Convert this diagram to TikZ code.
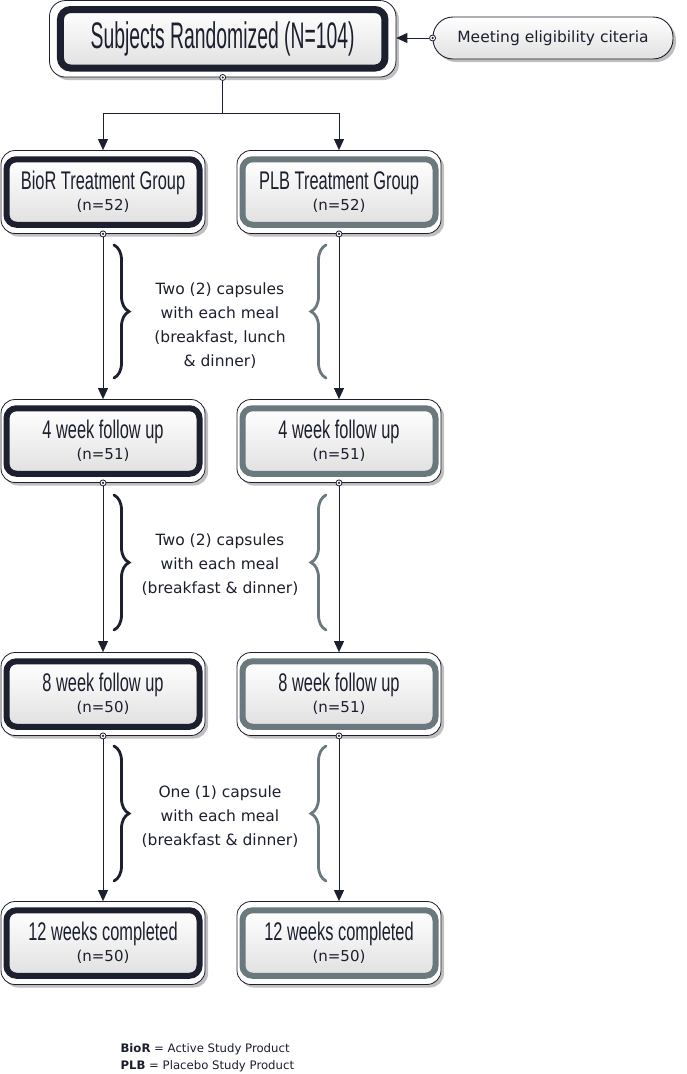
\documentclass[tikz,border=0pt]{standalone}
\usepackage{fontspec}
\setmainfont{DejaVu Sans}
\newfontfamily\dejavu{DejaVu Sans}
\newfontfamily\condA[FakeStretch=0.523]{Liberation Sans}
\newfontfamily\condB[FakeStretch=0.643]{Liberation Sans}
\usetikzlibrary{arrows.meta,fit,backgrounds,shadows,decorations.pathreplacing}
\definecolor{ink}{HTML}{1C1F2E}
\definecolor{slate}{HTML}{6A797D}
\tikzset{
  innerL/.style={rectangle, rounded corners=10pt, draw=ink, line width=6pt,
    top color=white, bottom color=black!12, minimum width=193pt, minimum height=65.5pt,
    outer sep=0pt, inner sep=0pt, align=center, text=ink,
    font=\dejavu\fontsize{15}{21}\selectfont},
  innerR/.style={innerL, draw=slate},
  innerTop/.style={innerL, line width=7pt, minimum width=324.5pt, minimum height=58.5pt,
    font=\condA\fontsize{37}{40}\selectfont},
  outerbox/.style={rectangle, rounded corners=14pt, draw=ink, line width=0.8pt, fill=white,
    inner xsep=5.5pt, inner ysep=8.75pt,
    drop shadow={shadow xshift=3pt, shadow yshift=-3pt, opacity=0.25, fill=black}},
  meetbox/.style={rectangle, rounded corners=20pt, draw=ink, line width=0.9pt,
    top color=white, bottom color=black!12, minimum width=240pt, minimum height=42pt,
    text=ink, font=\dejavu\fontsize{15.5}{18}\selectfont,
    drop shadow={shadow xshift=3pt, shadow yshift=-3pt, opacity=0.25, fill=black}},
  port/.style={circle, draw=ink, line width=0.8pt, fill=white, inner sep=0pt, minimum size=6pt,
    path picture={\fill[ink] (path picture bounding box.center) circle (1.2pt);}},
  arr/.style={draw=ink, line width=0.9pt, -{Triangle[length=11pt,width=10pt]}},
  link/.style={draw=ink, line width=0.9pt},
  bracel/.style={decorate, decoration={brace, amplitude=15pt}, line width=2.8pt, draw=ink, line cap=round},
  bracer/.style={bracel, draw=slate},
  note/.style={align=center, text=ink, font=\dejavu\fontsize{15.5}{24}\selectfont},
  legend/.style={align=left, anchor=west, text=ink, font=\dejavu\fontsize{11.7}{17}\selectfont}
}
\newcommand\flowbox[5]{%
  \node[#2] (#1) at (#3,#4) {#5};
  \begin{scope}[on background layer]
    \node[outerbox, fit=(#1)] (#1o) {};
  \end{scope}%
}
\newcommand\boxtext[2]{{\condB\fontsize{25.5}{21}\selectfont #1}\\#2}
\begin{document}
\begin{tikzpicture}[x=1pt, y=-1pt]
\useasboundingbox (0,0) rectangle (686,1074);

% top box
\node[innerTop] (top) at (222.7,38.8) {Subjects Randomized (N=104)};
\begin{scope}[on background layer]
  \node[outerbox, rounded corners=16pt, inner xsep=11pt, inner ysep=9pt, fit=(top)] (topo) {};
\end{scope}

% eligibility
\node[meetbox] (meet) at (553,38) {Meeting eligibility citeria};
\node[port] (pm) at (meet.west) {};
\draw[arr] (pm) -- (pm -| topo.east);

% rows
\flowbox{b1L}{innerL}{103}{192}{\boxtext{BioR Treatment Group}{(n=52)}}
\flowbox{b1R}{innerR}{339}{192}{\boxtext{PLB Treatment Group}{(n=52)}}
\flowbox{b2L}{innerL}{103}{441}{\boxtext{4 week follow up}{(n=51)}}
\flowbox{b2R}{innerR}{339}{441}{\boxtext{4 week follow up}{(n=51)}}
\flowbox{b3L}{innerL}{103}{694}{\boxtext{8 week follow up}{(n=50)}}
\flowbox{b3R}{innerR}{339}{694}{\boxtext{8 week follow up}{(n=51)}}
\flowbox{b4L}{innerL}{103}{943}{\boxtext{12 weeks completed}{(n=50)}}
\flowbox{b4R}{innerR}{339}{943}{\boxtext{12 weeks completed}{(n=50)}}

% split
\node[port] (p0) at (topo.south) {};
\path (p0.center) ++(0,36) coordinate (split);
\draw[link] (p0) -- (split);
\draw[arr] (split) -| (b1Lo.north);
\draw[arr] (split) -| (b1Ro.north);

% vertical flows
\foreach \a/\b in {b1L/b2L, b2L/b3L, b3L/b4L, b1R/b2R, b2R/b3R, b3R/b4R}{
  \node[port] (p\a) at (\a o.south) {};
  \draw[arr] (p\a) -- (p\a |- \b o.north);
}

% braces
\draw[bracel] (114,245) -- (114,378);
\draw[bracer] (326,378) -- (326,245);
\draw[bracel] (114,495) -- (114,630);
\draw[bracer] (326,630) -- (326,495);
\draw[bracel] (114,746) -- (114,881);
\draw[bracer] (326,881) -- (326,746);

\node[note] (n1) at (220,326) {Two (2) capsules\\with each meal\\(breakfast, lunch\\\& dinner)};
\node[note] (n2) at (220,565) {Two (2) capsules\\with each meal\\(breakfast \& dinner)};
\node[note] (n3) at (220,817) {One (1) capsule\\with each meal\\(breakfast \& dinner)};

% legend
\node[legend] (leg) at (117,1057.5) {\textbf{BioR} = Active Study Product\\\textbf{PLB} = Placebo Study Product};
\end{tikzpicture}
\end{document}
